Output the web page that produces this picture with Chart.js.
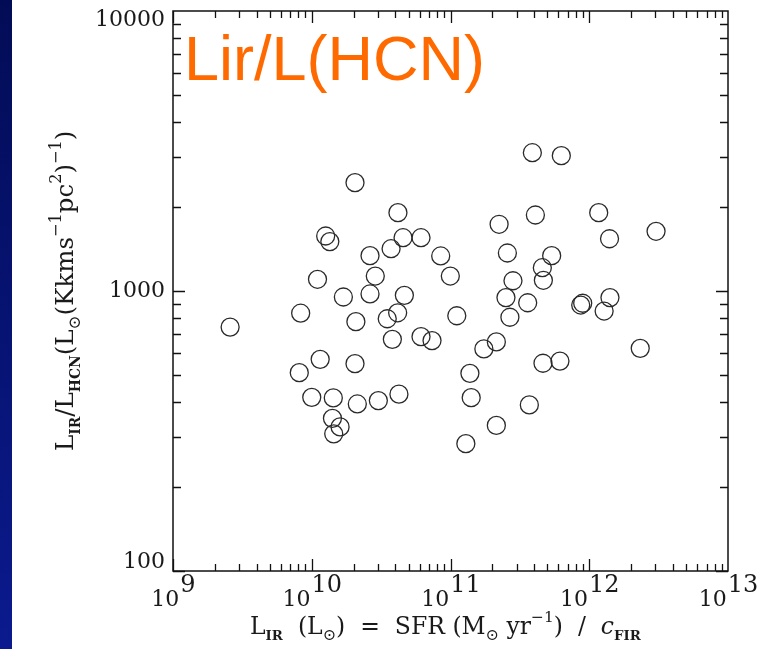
<!DOCTYPE html>
<html>
<head>
<meta charset="utf-8">
<script src="https://cdn.jsdelivr.net/npm/chart.js@4/dist/chart.umd.min.js"></script>
<style>
  body { margin: 0; background: #fff; }
  canvas { display: block; }
</style>
</head>
<body>
<canvas id="chart" width="775" height="649"></canvas>
<script>
// L_IR (L_sun)
const lirValues = [
  2.58e9, 8.32e9, 8.13e9, 1.00e10, 1.10e10, 1.15e10, 1.26e10, 1.35e10,
  1.41e10, 1.43e10, 1.44e10, 1.60e10, 1.69e10, 2.05e10, 2.08e10, 2.05e10,
  2.13e10, 2.63e10, 2.63e10, 2.87e10, 3.02e10, 3.50e10, 3.73e10, 3.81e10,
  4.18e10, 4.16e10, 4.25e10, 4.65e10, 4.55e10, 6.13e10, 6.13e10, 7.36e10,
  8.50e10, 9.97e10, 1.11e11, 1.29e11, 1.38e11, 1.41e11, 1.74e11, 2.14e11,
  2.14e11, 2.24e11, 2.57e11, 2.51e11, 2.68e11, 2.82e11, 3.60e11, 3.70e11,
  3.89e11, 4.09e11, 4.64e11, 4.59e11, 4.67e11, 5.36e11, 6.15e11, 6.29e11,
  1.17e12, 8.68e11, 8.97e11, 1.28e12, 1.40e12, 1.41e12, 2.33e12, 3.03e12
];
// L_IR / L_HCN
const ratioValues = [
  743, 833, 511, 417, 1101, 570, 1572, 1501,
  351, 415, 309, 327, 952, 2437, 777, 550,
  395, 1337, 976, 1131, 406, 796, 1416, 672,
  1904, 836, 428, 965, 1550, 687, 1550, 665,
  1334, 1131, 816, 285, 508, 416, 621, 658,
  331, 1731, 1367, 947, 806, 1088, 908, 392,
  3118, 1868, 552, 1211, 1092, 1337, 562, 3043,
  1904, 891, 904, 848, 1537, 947, 624, 1634
];
const xDecades = [9, 10, 11, 12, 13];
const yTickLabels = ['100', '1000', '10000'];
const titleText = 'Lir/L(HCN)';

const points = lirValues.map((x, i) => ({ x, y: ratioValues[i] }));

const serif = '"DejaVu Serif", serif';

// draw a run of [text, kind] pieces; kind: '' | 'sub' | 'sup' | 'it' | 'subsym'
function drawRun(ctx, parts, x, y, size) {
  const k = size / 22;
  const fonts = {
    '': size + 'px ' + serif,
    it: 'italic ' + size + 'px ' + serif,
    sub: 'bold ' + (12.5 * k) + 'px ' + serif,
    sup: (14.5 * k) + 'px ' + serif,
    subsym: (15 * k) + 'px ' + serif
  };
  const shift = { '': 0, it: 0, sub: 6 * k, sup: -11 * k, subsym: 6 * k };
  ctx.textBaseline = 'alphabetic';
  ctx.textAlign = 'left';
  let cx = x;
  parts.forEach(([t, kind]) => {
    ctx.font = fonts[kind];
    ctx.fillText(t, cx, y + shift[kind]);
    cx += ctx.measureText(t).width;
  });
  return cx - x;
}

const framePlugin = {
  id: 'frame',
  beforeDraw(chart) {
    const { ctx } = chart;
    ctx.save();
    ctx.fillStyle = '#fff';
    ctx.fillRect(0, 0, chart.width, chart.height);
    const g = ctx.createLinearGradient(0, 0, 0, chart.height);
    g.addColorStop(0, '#020c56');
    g.addColorStop(1, '#0b1a8e');
    ctx.fillStyle = g;
    ctx.fillRect(0, 0, 12, chart.height);
    ctx.restore();
  },
  afterDraw(chart) {
    const { ctx, chartArea: a } = chart;
    const xs = chart.scales.x, ys = chart.scales.y;
    ctx.save();
    ctx.strokeStyle = '#111';
    ctx.lineWidth = 1.5;
    ctx.strokeRect(a.left, a.top, a.right - a.left, a.bottom - a.top);

    // minor / major ticks on all four sides
    ctx.lineWidth = 1.3;
    ctx.beginPath();
    for (let d = 9; d < 13; d++) {
      for (let m = 1; m <= 9; m++) {
        const px = Math.round(xs.getPixelForValue(m * Math.pow(10, d))) + 0.5;
        const len = m === 1 ? 12 : 7;
        ctx.moveTo(px, a.bottom); ctx.lineTo(px, a.bottom - len);
        ctx.moveTo(px, a.top); ctx.lineTo(px, a.top + len);
      }
    }
    for (let d = 2; d < 4; d++) {
      for (let m = 1; m <= 9; m++) {
        const py = Math.round(ys.getPixelForValue(m * Math.pow(10, d))) + 0.5;
        const len = m === 1 ? 12 : 8;
        ctx.moveTo(a.left, py); ctx.lineTo(a.left + len, py);
        ctx.moveTo(a.right, py); ctx.lineTo(a.right - len, py);
      }
    }
    ctx.stroke();

    // y tick labels
    ctx.fillStyle = '#1a1a1a';
    ctx.font = '22px ' + serif;
    ctx.textAlign = 'right';
    ctx.textBaseline = 'middle';
    yTickLabels.forEach(lbl => {
      let py = ys.getPixelForValue(Number(lbl));
      py = Math.min(Math.max(py, a.top + 9), a.bottom - 9);
      ctx.fillText(lbl, a.left - 8, py);
    });

    // x tick labels 10^n
    xDecades.forEach(d => {
      const px = xs.getPixelForValue(Math.pow(10, d));
      ctx.font = '22px ' + serif;
      const wb = ctx.measureText('10').width;
      ctx.font = '24px ' + serif;
      const we = ctx.measureText(String(d)).width;
      const x0 = px - (wb + we) / 2;
      ctx.textAlign = 'left';
      ctx.textBaseline = 'alphabetic';
      ctx.font = '22px ' + serif;
      ctx.fillText('10', x0, 606);
      ctx.font = '24px ' + serif;
      ctx.fillText(String(d), x0 + wb + 1, 592);
    });

    // x axis title
    drawRun(ctx, [
      ['L', ''], ['IR', 'sub'], ['  (L', ''], ['\u2299', 'subsym'], [')  =  SFR (M', ''],
      ['\u2299', 'subsym'], [' yr', ''], ['\u22121', 'sup'], [')  /  ', ''], ['c', 'it'], ['FIR', 'sub']
    ], 250, 634, 23.5);

    // y axis title, rotated
    ctx.translate(73, 451);
    ctx.rotate(-Math.PI / 2);
    drawRun(ctx, [
      ['L', ''], ['IR', 'sub'], ['/L', ''], ['HCN', 'sub'], ['(L', ''], ['\u2299', 'subsym'],
      ['(Kkms', ''], ['\u22121', 'sup'], ['pc', ''], ['2', 'sup'], [')', ''], ['\u22121', 'sup'], [')', '']
    ], 0, 0, 24.5);
    ctx.setTransform(1, 0, 0, 1, 0, 0);

    // big orange title
    ctx.fillStyle = '#ff6a00';
    ctx.font = '63px "Liberation Sans", Arial, sans-serif';
    ctx.textAlign = 'left';
    ctx.textBaseline = 'alphabetic';
    ctx.fillText(titleText, 184, 80);
    ctx.restore();
  }
};

new Chart(document.getElementById('chart'), {
  type: 'scatter',
  data: {
    datasets: [{
      data: points,
      pointStyle: 'circle',
      pointRadius: 9,
      pointHoverRadius: 9,
      borderWidth: 1.3,
      borderColor: '#2a2a2a',
      backgroundColor: 'rgba(0,0,0,0)'
    }]
  },
  options: {
    responsive: false,
    animation: false,
    devicePixelRatio: 1,
    layout: { padding: { top: 11, right: 47, left: 0, bottom: 0 } },
    plugins: { legend: { display: false }, tooltip: { enabled: false } },
    scales: {
      x: {
        type: 'logarithmic',
        min: 1e9,
        max: 1e13,
        grid: { display: false },
        border: { display: false },
        ticks: { display: false },
        afterFit(scale) { scale.height = 78; }
      },
      y: {
        type: 'logarithmic',
        min: 100,
        max: 10000,
        grid: { display: false },
        border: { display: false },
        ticks: { display: false },
        afterFit(scale) { scale.width = 173; }
      }
    }
  },
  plugins: [framePlugin]
});
</script>
</body>
</html>
